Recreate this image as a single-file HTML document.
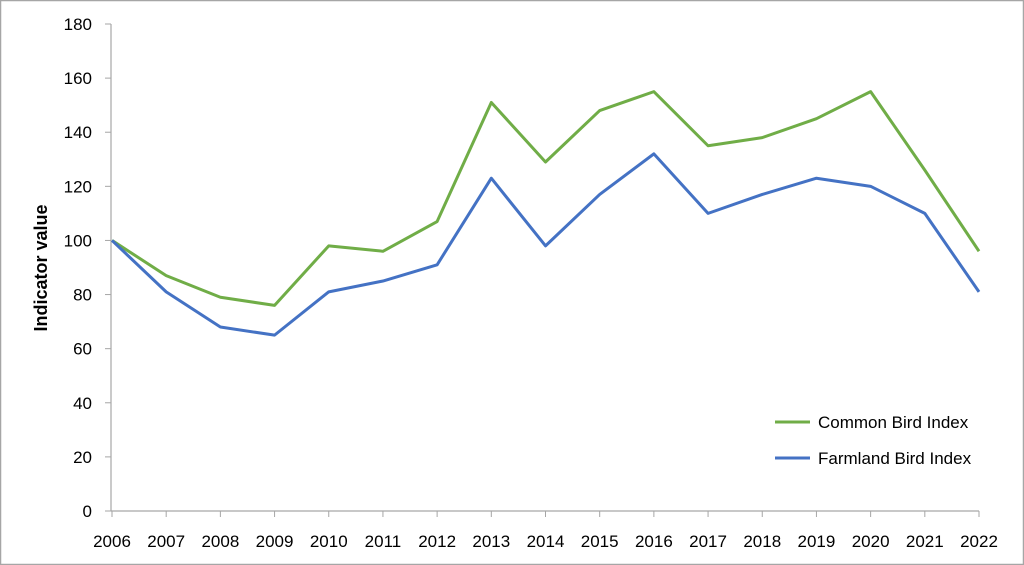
<!DOCTYPE html>
<html><head><meta charset="utf-8"><style>
html,body{margin:0;padding:0;background:#fff}
svg{display:block;font-family:"Liberation Sans",sans-serif}
</style></head><body>
<svg id="chart" width="1024" height="565" viewBox="0 0 1024 565">
<rect x="0.5" y="0.5" width="1023" height="564" fill="#fff" stroke="#a6a6a6" stroke-width="1.5"/>
<g id="grid"></g>
<text transform="translate(47,268) rotate(-90)" text-anchor="middle" font-size="18" font-weight="bold" fill="#000">Indicator value</text>
<g id="legend">
<line x1="775" y1="422" x2="810" y2="422" stroke="#70ad47" stroke-width="3"/>
<text x="818" y="428" font-size="17">Common Bird Index</text>
<line x1="775" y1="458" x2="810" y2="458" stroke="#4472c4" stroke-width="3"/>
<text x="818" y="464" font-size="17">Farmland Bird Index</text>
</g>
</svg>
<script>
const years = [2006,2007,2008,2009,2010,2011,2012,2013,2014,2015,2016,2017,2018,2019,2020,2021,2022];
const commonBird = [100,87,79,76,98,96,107,151,129,148,155,135,138,145,155,126,96];
const farmlandBird = [100,81,68,65,81,85,91,123,98,117,132,110,117,123,120,110,81];
const yTicks = [0,20,40,60,80,100,120,140,160,180];
const ns="http://www.w3.org/2000/svg";
const svg=document.getElementById('chart');
const g=document.getElementById('grid');
const x0=112,x1=979,yb=511,yt=24,ymax=180;
const xs=i=>x0+(x1-x0)*i/(years.length-1);
const ys=v=>yb-(yb-yt)*v/ymax;
function mk(t,a){const e=document.createElementNS(ns,t);for(const k in a)e.setAttribute(k,a[k]);return e;}
const ya=mk('line',{x1:111,y1:yt,x2:111,y2:yb,stroke:'#a6a6a6','stroke-width':1.2});


g.appendChild(ya);
const xa=mk('line',{x1:111,y1:yb,x2:x1,y2:yb,stroke:'#a6a6a6','stroke-width':1.2});


g.appendChild(xa);
yTicks.forEach(v=>{
 const t=mk('line',{x1:105,y1:ys(v),x2:111,y2:ys(v),stroke:'#a6a6a6'});
 
 
 g.appendChild(t);
 const l=mk('text',{x:92,y:ys(v)+6,'text-anchor':'end','font-size':17});
 
 
 l.textContent=v;g.appendChild(l);
});
years.forEach((yr,i)=>{
 const t=mk('line',{x1:xs(i),y1:yb,x2:xs(i),y2:yb+6,stroke:'#a6a6a6'});
 
 
 g.appendChild(t);
 const l=mk('text',{x:xs(i),y:547,'text-anchor':'middle','font-size':17});
 
 
 l.textContent=yr;g.appendChild(l);
});
function series(data,color,name){
 const p=mk('polyline',{points:data.map((v,i)=>xs(i)+','+ys(v)).join(' '),fill:'none',stroke:color,'stroke-width':3,'stroke-linejoin':'round'});
 
 
 svg.appendChild(p);
}
series(commonBird,'#70ad47','common-bird-index-line');
series(farmlandBird,'#4472c4','farmland-bird-index-line');
</script>
</body></html>
